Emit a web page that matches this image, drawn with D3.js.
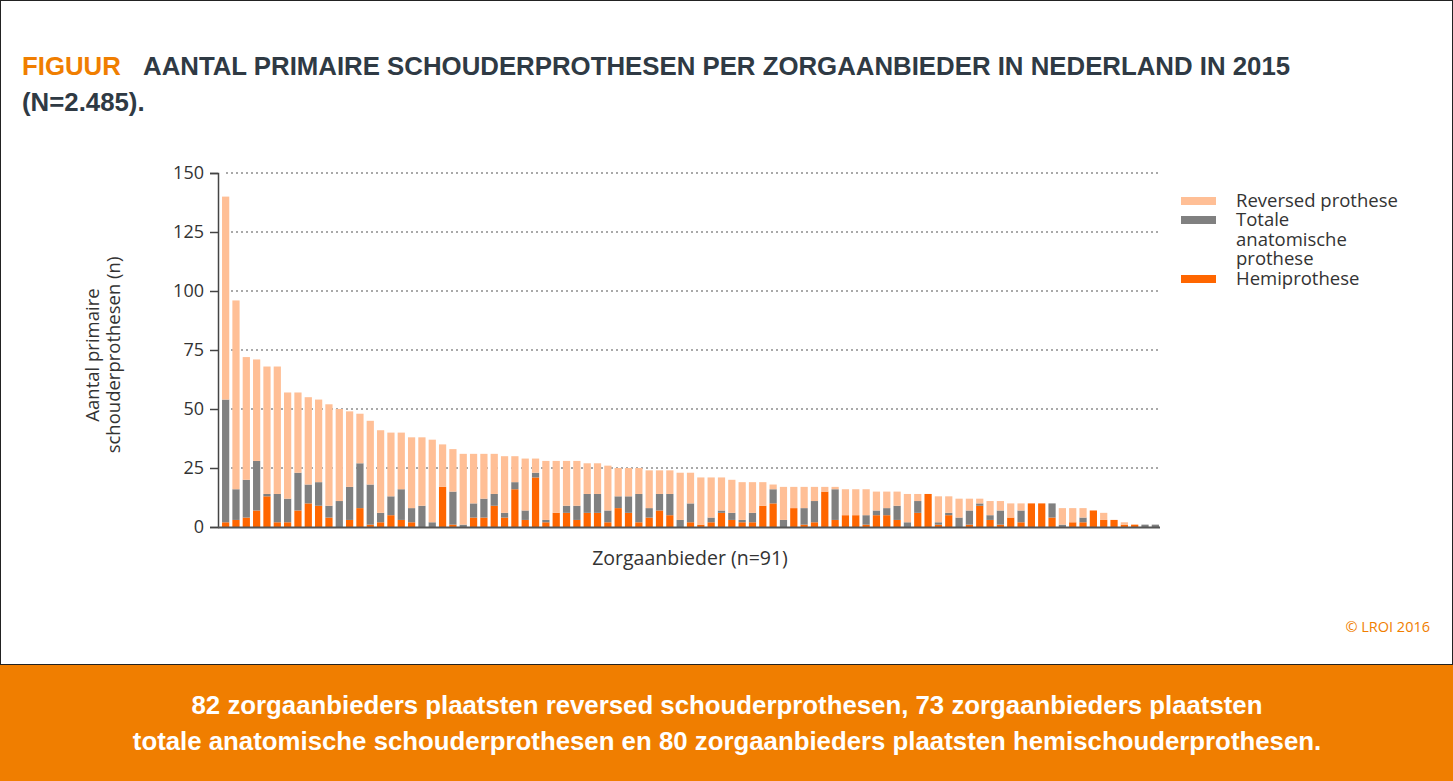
<!DOCTYPE html>
<html><head><meta charset="utf-8">
<script src="https://cdn.jsdelivr.net/npm/d3@7"></script>
<style>html,body{margin:0;padding:0;background:#fff;}svg{display:block;}</style>
</head><body>
<svg id="c" width="1453" height="781"></svg>
<script>
const providers = d3.range(1, 92).map(i => "Z" + i);
const hemi = [2,3,4,7,13,2,2,7,10,9, 4,0,3,8,1,2,5,3,2,0, 0,17,1,0,4,4,9,4,16,3, 21,2,6,6,3,6,6,2,8,6, 2,4,7,5,0,2,1,2,6,3, 2,2,9,10,0,8,1,2,15,3, 5,5,1,5,5,3,0,6,14,1, 5,0,1,9,3,1,4,2,10,10, 4,0,2,2,7,3,3,1,1,0,0];
const totale = [52,13,16,21,1,12,10,16,8,10, 5,11,14,19,17,4,8,13,6,9, 2,0,14,1,6,8,5,2,3,4, 2,1,0,3,6,8,8,5,5,7, 12,4,7,9,3,8,0,2,1,3, 1,4,0,6,3,0,7,9,0,13, 0,0,4,2,3,6,2,5,0,1, 1,4,6,1,2,6,0,5,0,0, 6,1,0,2,0,0,0,0,0,1,1];
const reversed = [86,80,52,43,54,54,45,34,37,35, 43,39,32,21,27,35,27,24,30,29, 35,18,18,30,21,19,17,24,11,22, 6,25,22,19,19,13,13,19,12,12, 11,16,10,10,20,13,20,17,14,14, 16,13,10,2,14,9,9,6,2,1, 11,11,11,8,7,6,12,3,0,11, 7,8,5,2,6,4,6,3,0,0, 0,7,6,4,0,3,0,1,0,0,0];
const yTicks = [0,25,50,75,100,125,150];
const seriesNames = ["Hemiprothese","Totale anatomische prothese","Reversed prothese"];
const seriesColors = ["#FF6600","#808080","#FFBF96"];

const svg = d3.select("#c");
svg.append("rect").attr("x",0.5).attr("y",0.5).attr("width",1452).attr("height",664).attr("fill","#fff").attr("stroke","#222").attr("stroke-width",1);
svg.append("rect").attr("x",0).attr("y",665).attr("width",1453).attr("height",116).attr("fill","#F07E00");

const tf = "'Liberation Sans', Arial, sans-serif";
const t1 = svg.append("text").attr("x",22).attr("y",75).attr("font-family",tf).attr("font-weight","bold").attr("font-size",25.8);
t1.append("tspan").attr("fill","#F07E00").text("FIGUUR");
t1.append("tspan").attr("fill","#2f3a44").attr("x",143).text("AANTAL PRIMAIRE SCHOUDERPROTHESEN PER ZORGAANBIEDER IN NEDERLAND IN 2015");
svg.append("text").attr("x",22).attr("y",111).attr("font-family",tf).attr("font-weight","bold").attr("font-size",25.8).attr("fill","#2f3a44").text("(N=2.485).");

const bf = svg.append("text").attr("font-family",tf).attr("font-weight","bold").attr("font-size",25.8).attr("fill","#fff").attr("text-anchor","middle");
bf.append("tspan").attr("x",727).attr("y",714).text("82 zorgaanbieders plaatsten reversed schouderprothesen, 73 zorgaanbieders plaatsten");
bf.append("tspan").attr("x",727).attr("y",750).text("totale anatomische schouderprothesen en 80 zorgaanbieders plaatsten hemischouderprothesen.");

const cf = "'Open Sans', 'Noto Sans', sans-serif";
const x = d3.scaleBand().domain(providers).range([221,1160]).paddingInner(0.3).paddingOuter(0.1);
const y = d3.scaleLinear().domain([0,150]).range([527,173]);

svg.append("g").selectAll("line").data(yTicks.filter(d=>d>0)).join("line")
  .attr("x1",226).attr("x2",1160).attr("y1",d=>y(d)).attr("y2",d=>y(d))
  .attr("stroke","#555").attr("stroke-width",1.2).attr("stroke-dasharray","2,3");

const rows = providers.map((p,i)=>({p, h:hemi[i], t:totale[i], r:reversed[i]}));
const stack = d3.stack().keys(["h","t","r"])(rows);
svg.append("g").selectAll("g").data(stack).join("g").attr("fill",(d,i)=>seriesColors[i])
  .selectAll("rect").data(d=>d.filter(v=>v[1]>v[0])).join("rect")
  .attr("x",d=>x(d.data.p)).attr("width",x.bandwidth())
  .attr("y",d=>y(d[1])).attr("height",d=>y(d[0])-y(d[1]));

const ya = svg.append("g").attr("transform","translate(218,0)")
  .call(d3.axisLeft(y).tickValues(yTicks).tickSize(8).tickPadding(6));
ya.select(".domain").attr("stroke","#444").attr("stroke-width",1.5);
ya.selectAll(".tick line").attr("stroke","#444").attr("stroke-width",1.5);
ya.selectAll("text").attr("font-family",cf).attr("font-size",18).attr("fill","#333");
svg.append("line").attr("x1",218).attr("x2",1160).attr("y1",527.5).attr("y2",527.5).attr("stroke","#555").attr("stroke-width",2);

const yt = svg.append("text").attr("transform","translate(103,355) rotate(-90)").attr("text-anchor","middle")
  .attr("font-family",cf).attr("font-size",18.5).attr("fill","#333");
yt.append("tspan").attr("x",0).attr("y",-4).text("Aantal primaire");
yt.append("tspan").attr("x",0).attr("y",17).text("schouderprothesen (n)");
svg.append("text").attr("x",690).attr("y",565).attr("text-anchor","middle").attr("font-family",cf).attr("font-size",19.5).attr("fill","#333").text("Zorgaanbieder (n=91)");

const legend = [
  {color:seriesColors[2], lines:["Reversed prothese"], y:201},
  {color:seriesColors[1], lines:["Totale","anatomische","prothese"], y:220},
  {color:seriesColors[0], lines:["Hemiprothese"], y:279}
];
const lg = svg.append("g");
legend.forEach(l=>{
  lg.append("rect").attr("x",1181).attr("y",l.y-4).attr("width",35).attr("height",8).attr("fill",l.color);
  const tx = lg.append("text").attr("font-family",cf).attr("font-size",18.5).attr("fill","#333");
  l.lines.forEach((s,j)=>{
    tx.append("tspan").attr("x",1236).attr("y",l.y+6+j*19.5).text(s);
  });
});

svg.append("text").attr("x",1430).attr("y",632).attr("text-anchor","end").attr("font-family",cf).attr("font-size",14.5).attr("fill","#F07E00").text("© LROI 2016");
</script>
</body></html>
